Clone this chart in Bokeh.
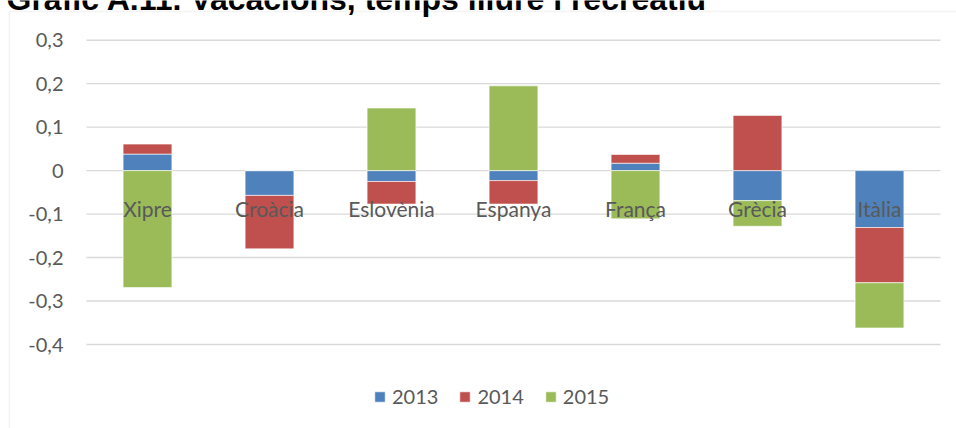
from bokeh.plotting import figure
from bokeh.models import (ColumnDataSource, Label, BoxAnnotation, Legend,
                          LegendItem, Range1d)
from bokeh.core.properties import value
from bokeh.embed import file_html
from bokeh.resources import INLINE

# --- data -------------------------------------------------------------
countries = ["Xipre", "Croàcia", "Eslovènia", "Espanya", "França", "Grècia", "Itàlia"]
years = ["2013", "2014", "2015"]
v2013 = [0.038, -0.057, -0.025, -0.023, 0.017, -0.069, -0.131]
v2014 = [0.023, -0.123, -0.052, -0.054, 0.020, 0.127, -0.127]
v2015 = [-0.269, 0.0, 0.144, 0.195, -0.111, -0.059, -0.104]
colors = ["#4F81BD", "#C0504D", "#9BBB59"]

tick_values = [-0.4, -0.3, -0.2, -0.1, 0.0, 0.1, 0.2, 0.3]
tick_labels = ["-0,4", "-0,3", "-0,2", "-0,1", "0", "0,1", "0,2", "0,3"]

title_text = "Gràfic A.11. Vacacions, temps lliure i recreatiu"

GREY = "#595959"
FONT = "Lato"
W, H = 956, 428

# The frame covers the whole canvas; the plotting area proper spans
# category slots -0.5 .. n-0.5 horizontally and the tick range vertically.
n = len(countries)
left_px, right_px, top_px, bottom_px = 86, 940, 39.7, 344.0
ymin, ymax = tick_values[0], tick_values[-1]
slot = (right_px - left_px) / n
unit_y = (bottom_px - top_px) / (ymax - ymin)

def dx(px):
    return -0.5 + (px - left_px) / slot

def dy(py):
    return ymax - (py - top_px) / unit_y

p = figure(width=W, height=H, x_range=Range1d(dx(0), dx(W)),
           y_range=Range1d(dy(H), dy(0)),
           output_backend="svg", toolbar_location=None,
           min_border=0, outline_line_color=None)
p.xaxis.visible = False
p.yaxis.visible = False
p.grid.visible = False

xs = list(range(n))

# horizontal gridlines + value labels
p.segment(x0=[-0.5] * len(tick_values), x1=[n - 0.5] * len(tick_values),
          y0=tick_values, y1=tick_values, line_color="#d9d9d9", line_width=1.4)
p.text(x=[-0.5] * len(tick_values), y=tick_values, text=tick_labels,
       x_offset=-23, text_align="right", text_baseline="middle",
       text_font=value(FONT), text_font_size="20px", text_color=GREY)

# stacked bars: positives stack upward from 0, negatives downward from 0
pos = [0.0] * n
neg = [0.0] * n
renderers = []
for vals, col in zip([v2013, v2014, v2015], colors):
    bottoms, tops = [], []
    for i, v in enumerate(vals):
        if v >= 0:
            bottoms.append(pos[i]); tops.append(pos[i] + v); pos[i] += v
        else:
            tops.append(neg[i]); bottoms.append(neg[i] + v); neg[i] += v
    src = ColumnDataSource(dict(x=xs, bottom=bottoms, top=tops))
    r = p.vbar(x="x", bottom="bottom", top="top", width=0.4, source=src,
               fill_color=col, line_color="white", line_alpha=0.6, line_width=1)
    renderers.append(r)

# category labels sit next to the zero line, over the bars
p.text(x=xs, y=[0.0] * n, text=countries, text_align="center",
       text_baseline="alphabetic", y_offset=38, text_font=value(FONT),
       text_font_size="21px", text_color=GREY)

legend = Legend(items=[LegendItem(label=y, renderers=[r]) for y, r in zip(years, renderers)],
                orientation="horizontal", location=(373, 20),
                glyph_width=13, glyph_height=13, label_standoff=6, spacing=20,
                padding=0, margin=0, border_line_color=None,
                background_fill_alpha=0,
                label_text_font=FONT, label_text_font_size="20px",
                label_text_color=GREY)
p.add_layout(legend, "center")

# chart area outline and title (the title runs off the top edge of the page)
p.add_layout(BoxAnnotation(left=dx(9), top=dy(11), right=dx(W + 20), bottom=dy(H + 20),
                           fill_alpha=0, line_color="#d9d9d9", line_width=1.5))
p.add_layout(Label(x=dx(6), y=dy(-1.5), text=title_text,
                   text_font="Liberation Sans", text_font_style="bold",
                   text_font_size="32px", text_color="black",
                   text_baseline="alphabetic"))

open("out.html", "w").write(file_html(p, INLINE))
